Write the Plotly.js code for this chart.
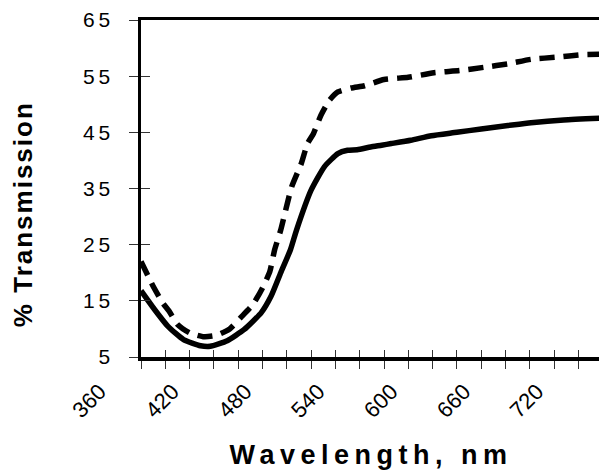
<!DOCTYPE html>
<html><head><meta charset="utf-8">
<script src="https://cdn.plot.ly/plotly-3.0.1.min.js"></script>
<style>
html,body{margin:0;padding:0;overflow:hidden;background:#fff;}
#chart{width:620px;height:471px;}
.ytick text{letter-spacing:4px;}
.annotation[data-index="0"] text{letter-spacing:2px;}
.annotation[data-index="1"] text{letter-spacing:5.5px;}
</style></head><body><div id="chart"></div>
<script>
// Solid curve
const wavelengthSolid = [380, 391, 402, 415, 429, 437, 451, 465, 479, 487, 495, 503, 508, 520, 531, 542, 550, 558, 569, 578, 586, 602, 619, 640, 660, 682, 701, 728, 758];
const transmissionSolid = [16.8, 13.5, 10.5, 8.1, 7.0, 6.9, 7.9, 9.9, 12.9, 15.8, 20.0, 24.1, 27.6, 34.7, 38.9, 41.2, 41.8, 41.9, 42.4, 42.7, 43.0, 43.6, 44.4, 45.0, 45.6, 46.2, 46.7, 47.2, 47.5];
// Dashed curve
const wavelengthDashed = [380, 390, 398, 403, 410, 420, 432, 442, 453, 462, 472, 480, 486, 490, 495, 504, 512, 517, 522, 528, 535, 542, 553, 564, 580, 600, 621, 642, 663, 682, 701, 723, 742, 758];
const transmissionDashed = [22.0, 17.6, 14.6, 13.2, 10.8, 9.3, 8.6, 8.85, 10.0, 12.0, 14.3, 17.3, 20.2, 24.1, 27.6, 35.3, 39.5, 43.0, 44.8, 48.0, 50.7, 52.2, 52.9, 53.3, 54.4, 54.8, 55.6, 56.0, 56.6, 57.2, 58.0, 58.4, 58.8, 58.9];
// Axis labels
const xTickVals = [360, 420, 480, 540, 600, 660, 720];
const xTickText = ['360', '420', '480', '540', '600', '660', '720'];
const yTickVals = [5, 15, 25, 35, 45, 55, 65];
const yTickText = ['5', '15', '25', '35', '45', '55', '65'];
const xTitle = 'Wavelength, nm';
const yTitle = '% Transmission';

const FONT = '"Liberation Sans", Arial, sans-serif';
const W = 620, H = 471;
const ml = 100, mr = 0, mt = 20, mb = 114;
const paperW = W - ml - mr;
const plotLeftPx = 41;                 // offset of plot area inside paper
const pxPerNm = 1.215;
const xStart = 380;
const xEnd = xStart + (paperW - plotLeftPx) / pxPerNm;
const xRange = [xStart, xEnd];
const x2Range = [xStart - plotLeftPx / pxPerNm, xEnd];
const yRange = [5, 65];
const mainDomain = [plotLeftPx / paperW, 1];

const tickCol = '#333';
const traces = [
  {x: wavelengthSolid, y: transmissionSolid, type: 'scatter', mode: 'lines',
   line: {color: '#000', width: 5.5, shape: 'spline', smoothing: 0.5}, hoverinfo: 'skip', showlegend: false},
  {x: wavelengthDashed, y: transmissionDashed, type: 'scatter', mode: 'lines',
   line: {color: '#000', width: 5.5, dash: '15px,9px', shape: 'spline', smoothing: 0.5}, hoverinfo: 'skip', showlegend: false},
  {x: [xStart], y: [yRange[0]], xaxis: 'x2', yaxis: 'y', mode: 'markers', marker: {opacity: 0}, hoverinfo: 'skip', showlegend: false},
  {x: [xStart], y: [yRange[0]], xaxis: 'x3', yaxis: 'y', mode: 'markers', marker: {opacity: 0}, hoverinfo: 'skip', showlegend: false},
  {x: [xStart], y: [yRange[0]], xaxis: 'x', yaxis: 'y2', mode: 'markers', marker: {opacity: 0}, hoverinfo: 'skip', showlegend: false}
];

const layout = {
  width: W, height: H, autosize: false,
  margin: {l: ml, r: mr, t: mt, b: mb},
  paper_bgcolor: '#fff', plot_bgcolor: 'rgba(0,0,0,0)',
  font: {family: FONT, color: '#000', size: 20},
  xaxis: {domain: mainDomain, range: xRange, anchor: 'y',
    tickmode: 'linear', tick0: xStart, dtick: 20, ticks: 'outside', ticklen: 8, tickwidth: 1, tickcolor: tickCol,
    showticklabels: false, showline: true, linewidth: 3.5, linecolor: '#000', mirror: true,
    showgrid: false, zeroline: false, fixedrange: true},
  xaxis2: {domain: [0, 1], range: x2Range, anchor: 'y',
    tickmode: 'array', tickvals: xTickVals, ticktext: xTickText, tickangle: -45,
    ticks: 'outside', ticklen: 8, tickcolor: 'rgba(0,0,0,0)', ticklabelstandoff: 4, ticklabelshift: -17,
    tickfont: {family: FONT, size: 22, color: '#000'},
    showline: false, showgrid: false, zeroline: false, fixedrange: true},
  xaxis3: {overlaying: 'x', anchor: 'y', range: xRange,
    tickmode: 'linear', tick0: xStart, dtick: 20, ticks: 'inside', ticklen: 7, tickwidth: 1, tickcolor: tickCol,
    showticklabels: false, showline: false, showgrid: false, zeroline: false, fixedrange: true},
  yaxis: {domain: [0, 1], range: yRange, anchor: 'x',
    tickmode: 'array', tickvals: yTickVals, ticktext: yTickText,
    ticks: 'outside', ticklen: 9, tickwidth: 1, tickcolor: tickCol, ticklabelstandoff: 10,
    tickfont: {family: FONT, size: 21, color: '#000'},
    showline: true, linewidth: 3.5, linecolor: '#000', showgrid: false, zeroline: false, fixedrange: true},
  yaxis2: {overlaying: 'y', anchor: 'x', side: 'left', range: yRange,
    tickmode: 'array', tickvals: yTickVals, ticks: 'inside', ticklen: 9, tickwidth: 1, tickcolor: tickCol,
    showticklabels: false, showline: false, showgrid: false, zeroline: false, fixedrange: true},
  annotations: [
    {text: '<b>' + yTitle + '</b>', xref: 'paper', yref: 'paper', x: -0.148, y: 0.424,
     xanchor: 'center', yanchor: 'middle', textangle: -90, showarrow: false,
     font: {family: FONT, size: 26, color: '#000'}},
    {text: '<b>' + xTitle + '</b>', xref: 'paper', yref: 'paper', x: 0.521, y: -0.291,
     xanchor: 'center', yanchor: 'middle', showarrow: false,
     font: {family: FONT, size: 27, color: '#000'}}
  ]
};

Plotly.newPlot('chart', traces, layout, {displayModeBar: false, staticPlot: true});
</script></body></html>
